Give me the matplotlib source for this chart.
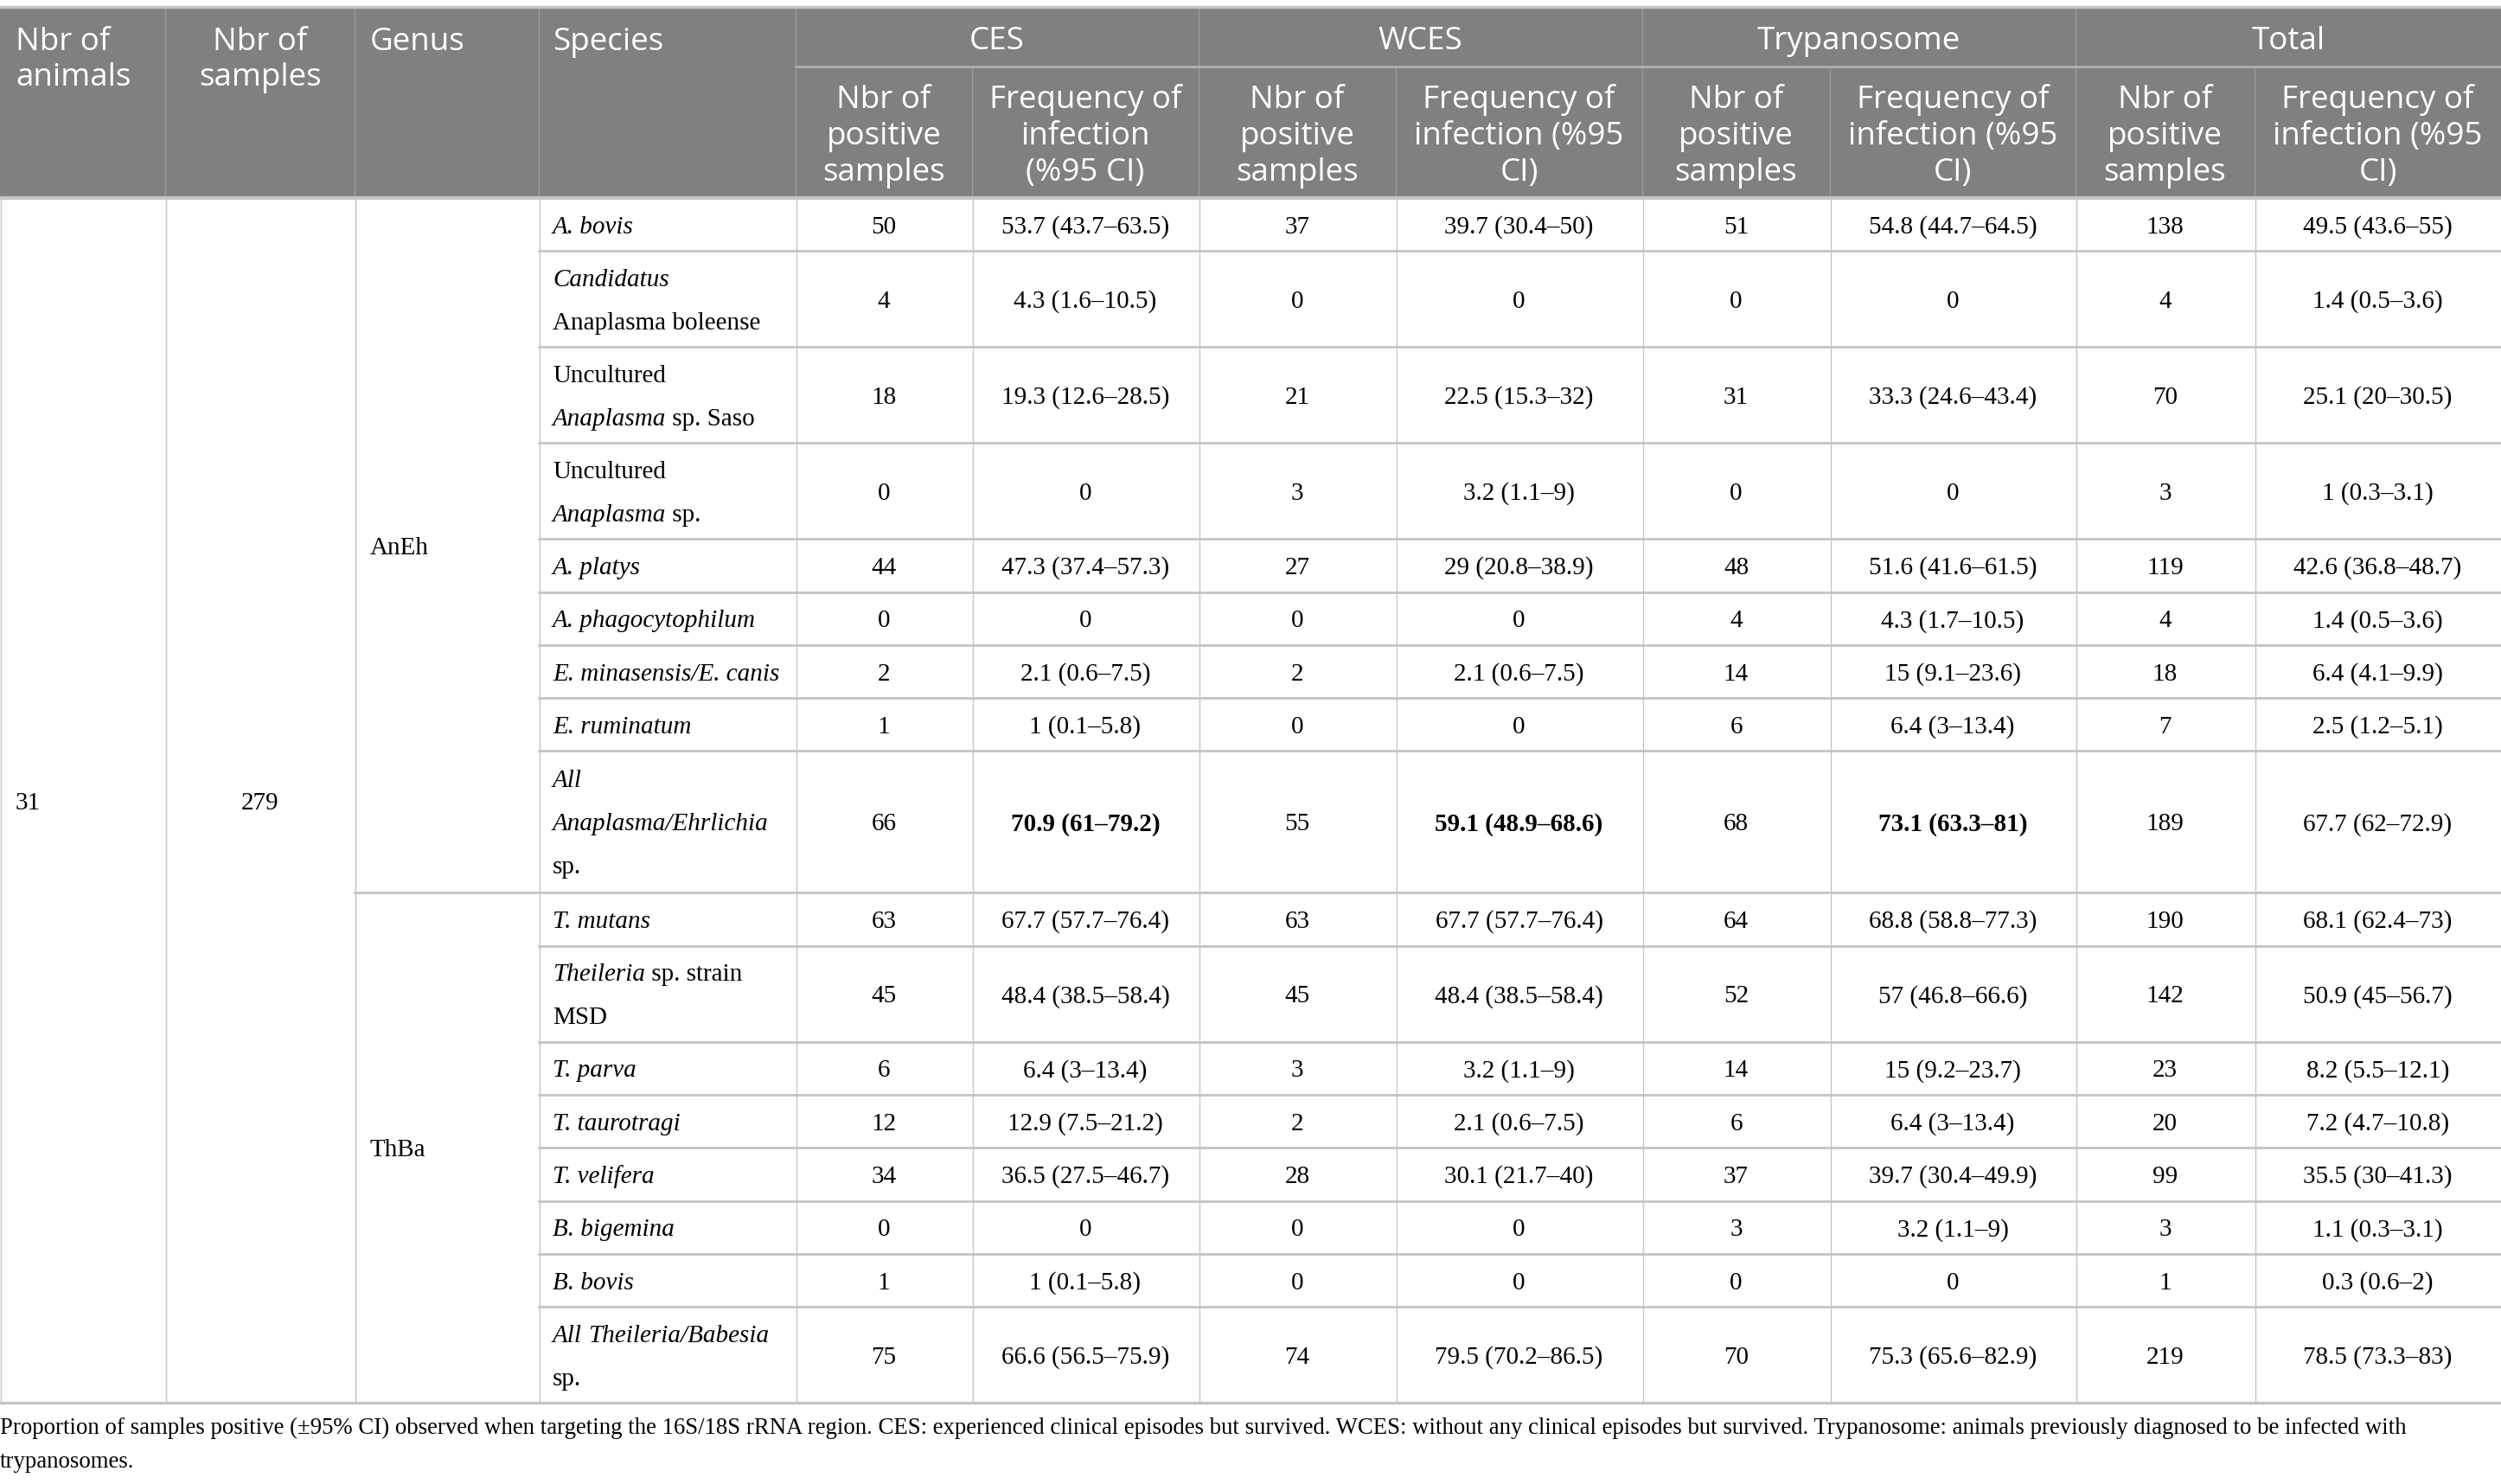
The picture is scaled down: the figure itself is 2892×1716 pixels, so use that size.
import matplotlib
matplotlib.use("Agg")
import matplotlib.pyplot as plt

# table content
n_animals = "31"
n_samples = "279"
genus = ["AnEh", "ThBa"]
genus_rows = [9, 8]

# species labels: lines -> (text, italic) segments
species = [
    [[("A. bovis", True)]],
    [[("Candidatus", True)], [("Anaplasma boleense", False)]],
    [[("Uncultured", False)], [("Anaplasma", True), (" sp. Saso", False)]],
    [[("Uncultured", False)], [("Anaplasma", True), (" sp.", False)]],
    [[("A. platys", True)]],
    [[("A. phagocytophilum", True)]],
    [[("E. minasensis/E. canis", True)]],
    [[("E. ruminatum", True)]],
    [[("All", True)], [("Anaplasma/Ehrlichia", True)], [("sp.", False)]],
    [[("T. mutans", True)]],
    [[("Theileria", True), (" sp. strain", False)], [("MSD", False)]],
    [[("T. parva", True)]],
    [[("T. taurotragi", True)]],
    [[("T. velifera", True)]],
    [[("B. bigemina", True)]],
    [[("B. bovis", True)]],
    [[("All ", True), ("Theileria/Babesia", True)], [("sp.", False)]],
]

ces_n = [50, 4, 18, 0, 44, 0, 2, 1, 66, 63, 45, 6, 12, 34, 0, 1, 75]
ces_f = ["53.7 (43.7–63.5)", "4.3 (1.6–10.5)", "19.3 (12.6–28.5)", "0", "47.3 (37.4–57.3)",
         "0", "2.1 (0.6–7.5)", "1 (0.1–5.8)", "70.9 (61–79.2)", "67.7 (57.7–76.4)",
         "48.4 (38.5–58.4)", "6.4 (3–13.4)", "12.9 (7.5–21.2)", "36.5 (27.5–46.7)", "0",
         "1 (0.1–5.8)", "66.6 (56.5–75.9)"]
wces_n = [37, 0, 21, 3, 27, 0, 2, 0, 55, 63, 45, 3, 2, 28, 0, 0, 74]
wces_f = ["39.7 (30.4–50)", "0", "22.5 (15.3–32)", "3.2 (1.1–9)", "29 (20.8–38.9)",
          "0", "2.1 (0.6–7.5)", "0", "59.1 (48.9–68.6)", "67.7 (57.7–76.4)",
          "48.4 (38.5–58.4)", "3.2 (1.1–9)", "2.1 (0.6–7.5)", "30.1 (21.7–40)", "0",
          "0", "79.5 (70.2–86.5)"]
tryp_n = [51, 0, 31, 0, 48, 4, 14, 6, 68, 64, 52, 14, 6, 37, 3, 0, 70]
tryp_f = ["54.8 (44.7–64.5)", "0", "33.3 (24.6–43.4)", "0", "51.6 (41.6–61.5)",
          "4.3 (1.7–10.5)", "15 (9.1–23.6)", "6.4 (3–13.4)", "73.1 (63.3–81)",
          "68.8 (58.8–77.3)", "57 (46.8–66.6)", "15 (9.2–23.7)", "6.4 (3–13.4)",
          "39.7 (30.4–49.9)", "3.2 (1.1–9)", "0", "75.3 (65.6–82.9)"]
tot_n = [138, 4, 70, 3, 119, 4, 18, 7, 189, 190, 142, 23, 20, 99, 3, 1, 219]
tot_f = ["49.5 (43.6–55)", "1.4 (0.5–3.6)", "25.1 (20–30.5)", "1 (0.3–3.1)",
         "42.6 (36.8–48.7)", "1.4 (0.5–3.6)", "6.4 (4.1–9.9)", "2.5 (1.2–5.1)",
         "67.7 (62–72.9)", "68.1 (62.4–73)", "50.9 (45–56.7)", "8.2 (5.5–12.1)",
         "7.2 (4.7–10.8)", "35.5 (30–41.3)", "1.1 (0.3–3.1)", "0.3 (0.6–2)",
         "78.5 (73.3–83)"]
bold_cells = [(8, 5), (8, 7), (8, 9)]  # (row, column)

groups = ["CES", "WCES", "Trypanosome", "Total"]
sub_n = ["Nbr of", "positive", "samples"]
sub_f_first = ["Frequency of", "infection", "(%95 CI)"]
sub_f = ["Frequency of", "infection (%95", "CI)"]

caption = ["Proportion of samples positive (±95% CI) observed when targeting the 16S/18S rRNA region. "
           "CES: experienced clinical episodes but survived. WCES: without any clinical episodes but survived. "
           "Trypanosome: animals previously diagnosed to be infected with",
           "trypanosomes."]

# layout (pixels)
W, H = 2892, 1716
cols = [0, 191, 410, 623, 920, 1124, 1386, 1614, 1899, 2116, 2400, 2607, 2892]
top, mid, hbot = 8, 77, 229
row_h = {1: 61.3, 2: 111, 3: 164}
head_bg = "#808080"
line_c = "#c4c4c4"
sans = "Open Sans"
serif = "Liberation Serif"
hfs = 26.5
bfs = 21
cfs = 19.3

fig = plt.figure(figsize=(W / 100, H / 100), dpi=100)
ax = fig.add_axes([0, 0, 1, 1])
ax.set_xlim(0, W)
ax.set_ylim(H, 0)
ax.axis("off")
renderer = fig.canvas.get_renderer()

# header background
ax.add_patch(plt.Rectangle((0, top), W, hbot - top, color=head_bg, lw=0))
for x in cols[1:4] + [cols[4], cols[6], cols[8], cols[10]]:
    ax.plot([x, x], [top, hbot], color="#9a9a9a", lw=1)
for x in [cols[5], cols[7], cols[9], cols[11]]:
    ax.plot([x, x], [mid, hbot], color="#9a9a9a", lw=1)
ax.plot([cols[4], W], [mid, mid], color="#b0b0b0", lw=2)

def htxt(x, y, s, ha="center"):
    ax.text(x, y, s, color="white", fontsize=hfs, family=sans, ha=ha, va="baseline")

htxt(18, 58, "Nbr of", "left")
htxt(18, 99, "animals", "left")
htxt((cols[1] + cols[2]) / 2, 58, "Nbr of")
htxt((cols[1] + cols[2]) / 2, 99, "samples")
htxt(cols[2] + 18, 58, "Genus", "left")
htxt(cols[3] + 16, 58, "Species", "left")
for g, name in enumerate(groups):
    c0 = 4 + 2 * g
    htxt((cols[c0] + cols[c0 + 2]) / 2, 57, name)
    lines_f = sub_f_first if g == 0 else sub_f
    for k in range(3):
        yb = 125 + 42 * k
        htxt((cols[c0] + cols[c0 + 1]) / 2, yb, sub_n[k])
        htxt((cols[c0 + 1] + cols[c0 + 2]) / 2, yb, lines_f[k])

# body rows
heights = [row_h[len(s)] for s in species]
ys = [hbot]
for h in heights:
    ys.append(ys[-1] + h)
bottom = ys[-1]

value_cols = [ces_n, ces_f, wces_n, wces_f, tryp_n, tryp_f, tot_n, tot_f]
for i, lines in enumerate(species):
    yc = (ys[i] + ys[i + 1]) / 2
    n = len(lines)
    for k, segs in enumerate(lines):
        yb = yc + 10 + (k - (n - 1) / 2) * 50
        x = cols[3] + 16
        for text, ital in segs:
            t = ax.text(x, yb, text, fontsize=bfs, family=serif,
                        style="italic" if ital else "normal", ha="left", va="baseline")
            x += t.get_window_extent(renderer).width
    for j, vals in enumerate(value_cols):
        c = 4 + j
        bold = (i, c) in bold_cells
        ax.text((cols[c] + cols[c + 1]) / 2, yc + 10, str(vals[i]), fontsize=bfs,
                family=serif, ha="center", va="baseline",
                weight="bold" if bold else "normal")

# row lines
for i in range(1, len(species)):
    x0 = cols[2] if i == genus_rows[0] else cols[3]
    ax.plot([x0, W], [ys[i], ys[i]], color=line_c, lw=2)
ax.plot([0, W], [hbot, hbot], color=line_c, lw=3)
ax.plot([0, W], [top, top], color=line_c, lw=2.5)
ax.plot([0, W], [bottom, bottom], color=line_c, lw=2.5)
for x in cols[:-1]:
    ax.plot([x + 0.5, x + 0.5], [hbot, bottom], color=line_c, lw=1)

# merged cells
body_c = (hbot + bottom) / 2
ax.text(18, body_c + 10, n_animals, fontsize=bfs, family=serif, ha="left", va="baseline")
ax.text((cols[1] + cols[2]) / 2, body_c + 10, n_samples, fontsize=bfs, family=serif,
        ha="center", va="baseline")
r0 = 0
for gname, nr in zip(genus, genus_rows):
    yc = (ys[r0] + ys[r0 + nr]) / 2
    ax.text(cols[2] + 18, yc + 10, gname, fontsize=bfs, family=serif, ha="left", va="baseline")
    r0 += nr

# caption
ax.text(0, 1658, caption[0], fontsize=cfs, family=serif, ha="left", va="baseline")
ax.text(0, 1697, caption[1], fontsize=cfs, family=serif, ha="left", va="baseline")

fig.savefig("out.png", dpi=100)
